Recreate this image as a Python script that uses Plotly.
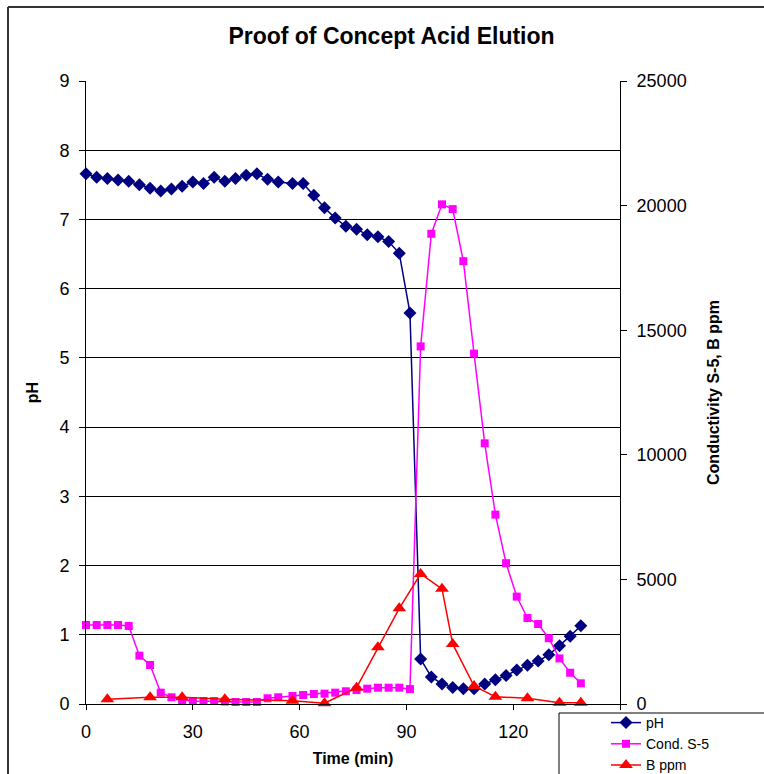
import plotly.graph_objects as go

# ---- data ----
time_min = [0, 3, 6, 9, 12, 15, 18, 21, 24, 27, 30, 33, 36, 39, 42, 45, 48, 51, 54,
            58, 61, 64, 67, 70, 73, 76, 79, 82, 85, 88, 91, 94, 97, 100, 103, 106,
            109, 112, 115, 118, 121, 124, 127, 130, 133, 136, 139]
ph = [7.66, 7.61, 7.59, 7.57, 7.55, 7.50, 7.45, 7.41, 7.44, 7.48, 7.54, 7.52, 7.61,
      7.55, 7.59, 7.64, 7.66, 7.58, 7.54, 7.52, 7.52, 7.35, 7.17, 7.02, 6.90, 6.86,
      6.78, 6.75, 6.68, 6.51, 5.65, 0.65, 0.39, 0.29, 0.24, 0.22, 0.22, 0.29, 0.35,
      0.41, 0.49, 0.56, 0.62, 0.71, 0.84, 0.98, 1.13]
cond_s5 = [3170, 3170, 3170, 3170, 3130, 1940, 1565, 455, 270, 160, 120, 120, 120,
           100, 80, 80, 80, 230, 270, 320, 360, 400, 415, 455, 510, 560, 615, 655,
           655, 655, 600, 14350, 18870, 20050, 19860, 17770, 14060, 10460, 7600,
           5650, 4310, 3450, 3210, 2640, 1830, 1255, 830]
b_time = [6, 18, 27, 39, 58, 67, 76, 82, 88, 94, 100, 103, 109, 115, 124, 133, 139]
b_ppm = [190, 270, 270, 190, 135, 30, 655, 2275, 3840, 5220, 4620, 2410, 720, 295,
         230, 50, 50]

x_ticks = [0, 30, 60, 90, 120, 150]
x_ticktext = ["0", "30", "60", "90", "120", ""]

FONT = "Arial, Liberation Sans, sans-serif"

fig = go.Figure()
fig.add_trace(go.Scatter(
    x=time_min, y=ph, name="pH", mode="lines+markers",
    line=dict(color="#000080", width=1.5),
    marker=dict(symbol="diamond", size=10, color="#000080"),
    cliponaxis=False, yaxis="y"))
fig.add_trace(go.Scatter(
    x=time_min, y=cond_s5, name="Cond. S-5", mode="lines+markers",
    line=dict(color="#FF00FF", width=1.5),
    marker=dict(symbol="square", size=8, color="#FF00FF"),
    cliponaxis=False, yaxis="y2"))
fig.add_trace(go.Scatter(
    x=b_time, y=b_ppm, name="B ppm", mode="lines+markers",
    line=dict(color="#FF0000", width=1.5),
    marker=dict(symbol="triangle-up", size=12, color="#FF0000"),
    cliponaxis=False, yaxis="y2"))

L, R, T, B = 86, 144, 81, 70
W, H = 764, 774
pw, ph_ = W - L - R, H - T - B


def px(xp):
    return (xp - L) / pw


def py(yp):
    return (H - B - yp) / ph_


fig.update_layout(
    width=W, height=H,
    margin=dict(l=L, r=R, t=T, b=B, pad=0, autoexpand=False),
    paper_bgcolor="white", plot_bgcolor="white",
    font=dict(family=FONT, color="black"),
    title=dict(text="<b>Proof of Concept Acid Elution</b>",
               font=dict(size=23, family=FONT, color="black"),
               x=391.5 / W, xanchor="center", xref="container",
               y=1 - 36 / H, yanchor="middle", yref="container"),
    xaxis=dict(range=[0, 150], tickvals=x_ticks, ticktext=x_ticktext,
               showgrid=False, zeroline=False, showline=True, linecolor="black",
               linewidth=1, ticks="outside", ticklen=5, tickcolor="black",
               tickfont=dict(size=18, family=FONT), ticklabelstandoff=6,
               automargin=False,
               title=dict(text="<b>Time (min)</b>", font=dict(size=16, family=FONT),
                          standoff=12)),
    yaxis=dict(range=[0, 9], dtick=1, showgrid=True, gridcolor="black", gridwidth=1,
               zeroline=False, showline=True, linecolor="black", linewidth=1,
               ticks="outside", ticklen=6, tickcolor="black",
               tickfont=dict(size=18, family=FONT), ticklabelstandoff=6,
               automargin=False,
               title=dict(text="<b>pH</b>", font=dict(size=16, family=FONT),
                          standoff=16)),
    yaxis2=dict(range=[0, 25000], dtick=5000, tickformat="d", overlaying="y",
                side="right",
                showgrid=False, zeroline=False, showline=True, linecolor="black",
                linewidth=1, ticks="outside", ticklen=6, tickcolor="black",
                tickfont=dict(size=18, family=FONT), ticklabelstandoff=6,
                automargin=False,
                title=dict(text="<b>Conductivity S-5, B ppm</b>",
                           font=dict(size=16, family=FONT), standoff=22)),
    legend=dict(x=px(606), y=py(707), xanchor="left", yanchor="top",
                bgcolor="rgba(0,0,0,0)", borderwidth=0,
                font=dict(size=14, family=FONT), tracegroupgap=0),
    showlegend=True,
    shapes=[
        # outer chart frame (top and left edges)
        dict(type="line", xref="paper", yref="paper", x0=px(8), x1=px(W + 5),
             y0=py(7), y1=py(7), line=dict(color="#333333", width=2)),
        dict(type="line", xref="paper", yref="paper", x0=px(8), x1=px(8),
             y0=py(7), y1=py(H + 5), line=dict(color="#333333", width=2)),
        # legend box
        dict(type="rect", xref="paper", yref="paper", x0=px(559), x1=px(W + 20),
             y0=py(713), y1=py(H + 20), line=dict(color="black", width=1),
             fillcolor="rgba(0,0,0,0)", layer="below"),
    ],
)

fig.write_html("out.html")
